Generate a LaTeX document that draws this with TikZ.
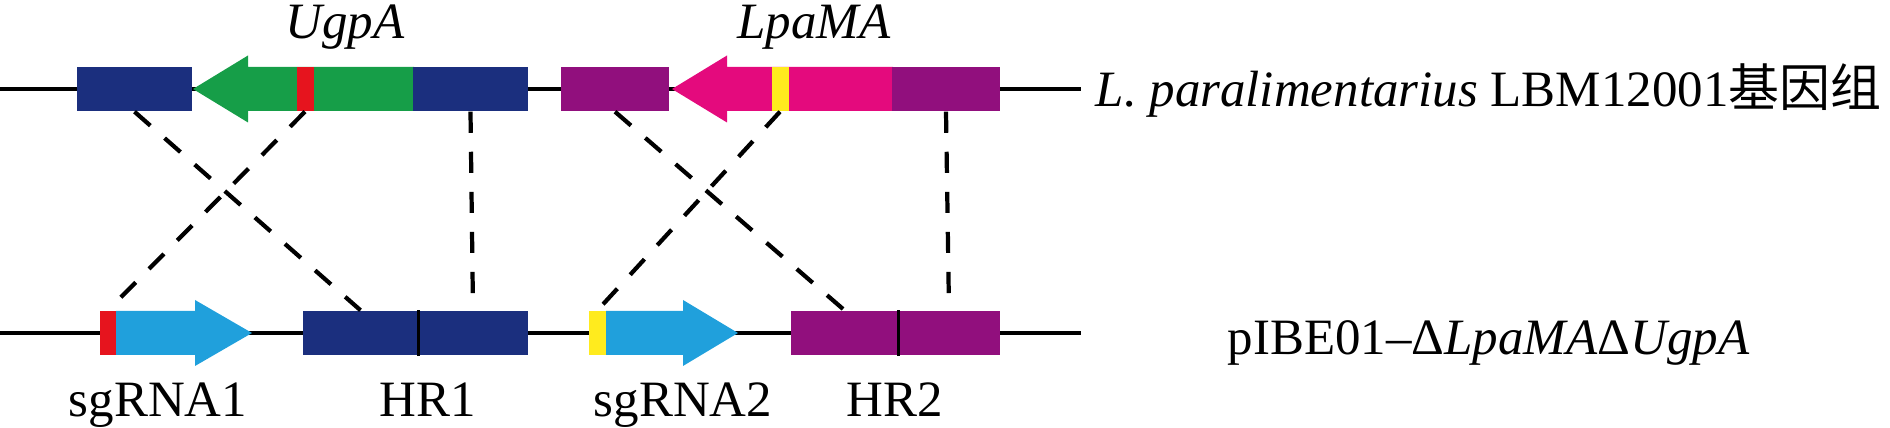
\documentclass[tikz,border=0pt]{standalone}
\usepackage{fontspec}
\setmainfont{Liberation Serif}
\newfontfamily\cjkfont{Noto Sans CJK SC}
\definecolor{hrblue}{HTML}{1B2F7E}
\definecolor{genegreen}{HTML}{169E48}
\definecolor{bandred}{HTML}{E6141E}
\definecolor{hrpurple}{HTML}{910F7D}
\definecolor{genepink}{HTML}{E40A7D}
\definecolor{bandyellow}{HTML}{FFEB1E}
\definecolor{sgblue}{HTML}{20A0DC}
\begin{document}
\begin{tikzpicture}[gene_box/.style={rectangle,inner sep=0pt,minimum height=0.44cm},
    band_node/.style={rectangle,inner sep=0pt,minimum height=0.44cm,minimum width=0.17cm},
    dash_line/.style={line width=1.2pt,dash pattern=on 6pt off 5.4pt},
    label_node/.style={inner sep=0pt,anchor=base,font=\fontsize{14.5}{17}\selectfont}]
    \useasboundingbox (0,0) rectangle (18.9,4.28);
    \coordinate (top_start) at (0,3.39);
    \coordinate (top_end) at (10.81,3.39);
    \coordinate (bottom_start) at (0,0.95);
    \coordinate (bottom_end) at (10.81,0.95);
    \draw[line width=1.1pt] (top_start) -- (top_end);
    \draw[line width=1.1pt] (bottom_start) -- (bottom_end);
    % genome
    \node[gene_box,fill=hrblue,minimum width=1.15cm] (ugp_left) at (1.345,3.39) {};
    \fill[genegreen] (1.93,3.39) -- (2.48,3.725) -- (2.48,3.61) -- (4.14,3.61) -- (4.14,3.17) -- (2.48,3.17) -- (2.48,3.055) -- cycle;
    \node[gene_box,fill=hrblue,minimum width=1.15cm] (ugp_right) at (4.705,3.39) {};
    \node[band_node,fill=bandred] (ugp_sg) at (3.05,3.39) {};
    \node[gene_box,fill=hrpurple,minimum width=1.08cm] (lpa_left) at (6.15,3.39) {};
    \fill[genepink] (6.72,3.39) -- (7.27,3.725) -- (7.27,3.61) -- (8.93,3.61) -- (8.93,3.17) -- (7.27,3.17) -- (7.27,3.055) -- cycle;
    \node[gene_box,fill=hrpurple,minimum width=1.08cm] (lpa_right) at (9.46,3.39) {};
    \node[band_node,fill=bandyellow] (lpa_sg) at (7.80,3.39) {};
    % plasmid
    \node[band_node,fill=bandred] (sg1_seq) at (1.08,0.95) {};
    \fill[sgblue] (1.16,1.17) -- (1.95,1.17) -- (1.95,1.28) -- (2.52,0.95) -- (1.95,0.62) -- (1.95,0.73) -- (1.16,0.73) -- cycle;
    \node[gene_box,fill=hrblue,minimum width=1.15cm] (hr1_left) at (3.605,0.95) {};
    \node[gene_box,fill=hrblue,minimum width=1.10cm] (hr1_right) at (4.73,0.95) {};
    \draw[line width=1pt] (hr1_left.north east) -- (hr1_left.south east);
    \node[band_node,fill=bandyellow] (sg2_seq) at (5.975,0.95) {};
    \fill[sgblue] (6.06,1.17) -- (6.83,1.17) -- (6.83,1.28) -- (7.38,0.95) -- (6.83,0.62) -- (6.83,0.73) -- (6.06,0.73) -- cycle;
    \node[gene_box,fill=hrpurple,minimum width=1.07cm] (hr2_left) at (8.445,0.95) {};
    \node[gene_box,fill=hrpurple,minimum width=1.02cm] (hr2_right) at (9.49,0.95) {};
    \draw[line width=1pt] (hr2_left.north east) -- (hr2_left.south east);
    % homologous arms
    \draw[dash_line] (ugp_left.south) -- (hr1_left.north);
    \draw[dash_line] (ugp_right.south) -- (hr1_right.north);
    \draw[dash_line] (ugp_sg.south) -- (sg1_seq.north);
    \draw[dash_line] (lpa_left.south) -- (hr2_left.north);
    \draw[dash_line] (lpa_right.south) -- (hr2_right.north);
    \draw[dash_line] (lpa_sg.south) -- (sg2_seq.north);
    % labels
    \node[label_node] (ugp_label) at (3.45,3.89) {\textit{UgpA}};
    \node[label_node] (lpa_label) at (8.14,3.89) {\textit{LpaMA}};
    \node[label_node,anchor=base west] (genome_label) at (10.95,3.21) {\textit{L. paralimentarius} LBM12001{\cjkfont 基因组}};
    \node[label_node,anchor=base west] (plasmid_label) at (12.27,0.73) {pIBE01–Δ\textit{LpaMA}Δ\textit{UgpA}};
    \node[label_node] (sg1_label) at (1.58,0.11) {sgRNA1};
    \node[label_node] (hr1_label) at (4.28,0.11) {HR1};
    \node[label_node] (sg2_label) at (6.83,0.11) {sgRNA2};
    \node[label_node] (hr2_label) at (8.95,0.11) {HR2};
\end{tikzpicture}
\end{document}
